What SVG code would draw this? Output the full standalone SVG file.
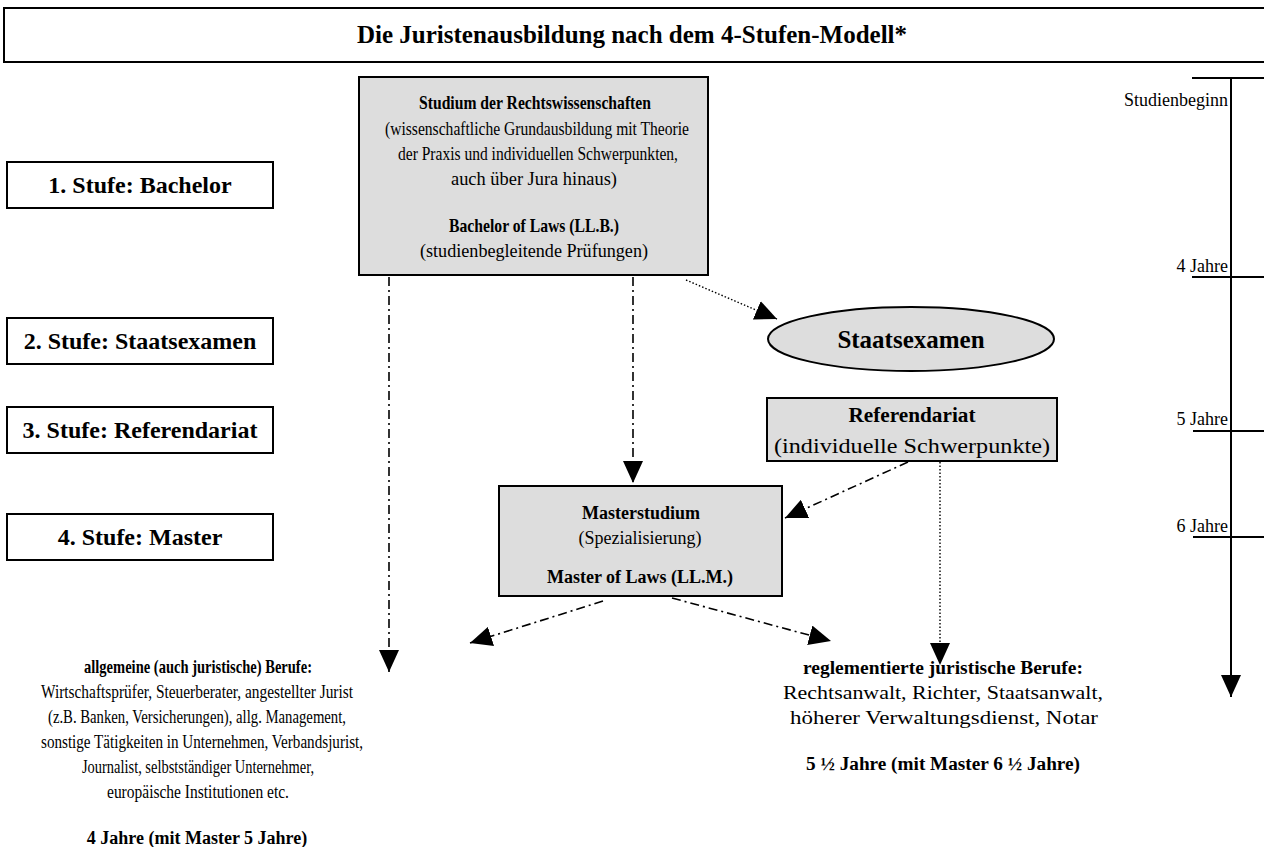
<svg xmlns="http://www.w3.org/2000/svg" width="1264" height="847" viewBox="0 0 1264 847">
<style>
text{font-family:"Liberation Serif","Times New Roman",serif;fill:#000;}
.b{font-weight:bold;}
.t{font-size:18px;}
.m{font-size:19px;}
.u{font-size:20px;}
.s{font-size:24px;font-weight:bold;}
.c{text-anchor:middle;}
.r{text-anchor:end;}
.box{fill:#fff;stroke:#000;stroke-width:2;}
.gbox{fill:#dddddd;stroke:#000;stroke-width:2;}
.dd{fill:none;stroke:#000;stroke-width:1.6;stroke-dasharray:9 4 2 4;}
.dot{fill:none;stroke:#000;stroke-width:1.4;stroke-dasharray:1.5 2;}
.ln{fill:none;stroke:#000;stroke-width:2;}
</style>
<defs>
<marker id="ahb" markerWidth="22" markerHeight="20" refX="22" refY="10" orient="auto" markerUnits="userSpaceOnUse" viewBox="0 0 22 20">
<path d="M0,0 L22,10 L0,20 z" fill="#000"/>
</marker>
</defs>

<g id="title">
<rect class="box" x="4" y="8" width="1270" height="54"/>
<text class="b c" x="632" y="43" font-size="25">Die Juristenausbildung nach dem 4-Stufen-Modell*</text>
</g>

<g id="stage1"><rect class="box" x="7" y="162" width="266" height="46"/><text class="s c" x="140" y="193">1. Stufe: Bachelor</text></g>
<g id="stage2"><rect class="box" x="7" y="318" width="266" height="46"/><text class="s c" x="140" y="349">2. Stufe: Staatsexamen</text></g>
<g id="stage3"><rect class="box" x="7" y="407" width="266" height="46"/><text class="s c" x="140" y="438">3. Stufe: Referendariat</text></g>
<g id="stage4"><rect class="box" x="7" y="514" width="266" height="46"/><text class="s c" x="140" y="545">4. Stufe: Master</text></g>

<g id="studium">
<rect class="gbox" x="359" y="77" width="349" height="198"/>
<text class="m b c" x="535" y="109" textLength="232" lengthAdjust="spacingAndGlyphs">Studium der Rechtswissenschaften</text>
<text class="m c" x="537" y="135" textLength="304" lengthAdjust="spacingAndGlyphs">(wissenschaftliche Grundausbildung mit Theorie</text>
<text class="m c" x="538" y="160" textLength="280" lengthAdjust="spacingAndGlyphs">der Praxis und individuellen Schwerpunkten,</text>
<text class="m c" x="534" y="185" textLength="166" lengthAdjust="spacingAndGlyphs">auch über Jura hinaus)</text>
<text class="m b c" x="534" y="232" textLength="170" lengthAdjust="spacingAndGlyphs">Bachelor of Laws (LL.B.)</text>
<text class="m c" x="534" y="257" textLength="228" lengthAdjust="spacingAndGlyphs">(studienbegleitende Prüfungen)</text>
</g>

<g id="staatsexamen">
<ellipse cx="911" cy="339" rx="143" ry="32" fill="#dddddd" stroke="#000" stroke-width="2"/>
<text class="b c" x="911" y="348" font-size="25">Staatsexamen</text>
</g>

<g id="referendariat">
<rect class="gbox" x="767" y="398" width="290" height="63"/>
<text class="u b c" x="912" y="422" textLength="127" lengthAdjust="spacingAndGlyphs">Referendariat</text>
<text class="u c" x="912" y="453" textLength="276" lengthAdjust="spacingAndGlyphs">(individuelle Schwerpunkte)</text>
</g>

<g id="master">
<rect class="gbox" x="499" y="486" width="283" height="110"/>
<text class="t b c" x="641" y="519">Masterstudium</text>
<text class="t c" x="640" y="544">(Spezialisierung)</text>
<text class="t b c" x="640" y="583">Master of Laws (LL.M.)</text>
</g>

<g id="allgemeine">
<text class="m b c" x="198" y="673" textLength="228" lengthAdjust="spacingAndGlyphs">allgemeine (auch juristische) Berufe:</text>
<text class="m c" x="197" y="698" textLength="312" lengthAdjust="spacingAndGlyphs">Wirtschaftsprüfer, Steuerberater, angestellter Jurist</text>
<text class="m c" x="197" y="723" textLength="298" lengthAdjust="spacingAndGlyphs">(z.B. Banken, Versicherungen), allg. Management,</text>
<text class="m c" x="202" y="748" textLength="322" lengthAdjust="spacingAndGlyphs">sonstige Tätigkeiten in Unternehmen, Verbandsjurist,</text>
<text class="m c" x="198" y="773" textLength="232" lengthAdjust="spacingAndGlyphs">Journalist, selbstständiger Unternehmer,</text>
<text class="m c" x="198" y="798" textLength="182" lengthAdjust="spacingAndGlyphs">europäische Institutionen etc.</text>
<text class="t b c" x="197" y="844">4 Jahre (mit Master 5 Jahre)</text>
</g>

<g id="reglementiert">
<text class="t b c" x="943" y="674" textLength="280" lengthAdjust="spacingAndGlyphs">reglementierte juristische Berufe:</text>
<text class="m c" x="943" y="699" textLength="320" lengthAdjust="spacingAndGlyphs">Rechtsanwalt, Richter, Staatsanwalt,</text>
<text class="m c" x="944" y="724" textLength="308" lengthAdjust="spacingAndGlyphs">höherer Verwaltungsdienst, Notar</text>
<text class="t b c" x="943" y="770" textLength="274" lengthAdjust="spacingAndGlyphs">5 ½ Jahre (mit Master 6 ½ Jahre)</text>
</g>

<g id="timeline">
<line class="ln" x1="1231" y1="77" x2="1231" y2="697" marker-end="url(#ahb)"/>
<line class="ln" x1="1192" y1="78" x2="1264" y2="78"/>
<line class="ln" x1="1192" y1="277" x2="1264" y2="277"/>
<line class="ln" x1="1193" y1="431" x2="1264" y2="431"/>
<line class="ln" x1="1193" y1="537" x2="1264" y2="537"/>
<text class="t r" x="1228" y="106">Studienbeginn</text>
<text class="t r" x="1228" y="272">4 Jahre</text>
<text class="t r" x="1228" y="425">5 Jahre</text>
<text class="t r" x="1228" y="532">6 Jahre</text>
</g>

<g id="connectors">
<line class="dd" x1="389" y1="277" x2="389" y2="672" marker-end="url(#ahb)"/>
<line class="dd" x1="633" y1="277" x2="633" y2="483" marker-end="url(#ahb)"/>
<line class="dot" x1="686" y1="280" x2="777" y2="319" marker-end="url(#ahb)"/>
<line class="dd" x1="908" y1="462" x2="785" y2="518" marker-end="url(#ahb)"/>
<line class="dot" x1="940" y1="462" x2="940" y2="665" marker-end="url(#ahb)"/>
<line class="dd" x1="603" y1="601" x2="470" y2="643" marker-end="url(#ahb)"/>
<line class="dd" x1="672" y1="598" x2="831" y2="641" marker-end="url(#ahb)"/>
</g>
</svg>
